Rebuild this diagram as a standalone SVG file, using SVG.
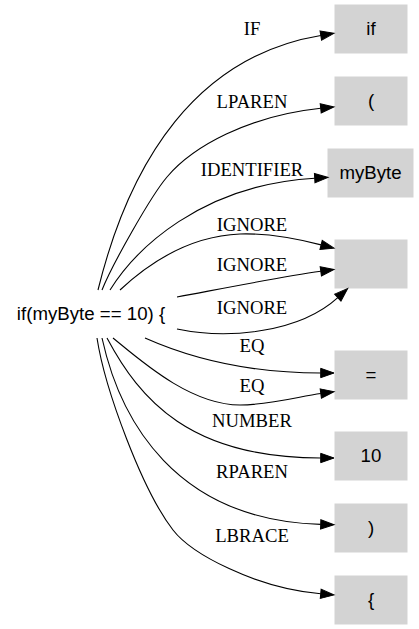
<svg xmlns="http://www.w3.org/2000/svg" width="419" height="629" viewBox="0 0 419 629">
<style>
.box{fill:#d3d3d3;stroke:#d3d3d3;stroke-width:1}
.nl{font-family:"Liberation Sans",Arial,sans-serif;font-size:18.67px;fill:#000;text-anchor:middle}
.el{font-family:"Liberation Serif","Times New Roman",serif;font-size:18.67px;fill:#000;text-anchor:middle}
.edge{fill:none;stroke:#000;stroke-width:1.1;marker-end:url(#arr)}
</style>
<defs>
<marker id="arr" markerUnits="userSpaceOnUse" viewBox="0 -5 14 10" refX="0" refY="0" markerWidth="14" markerHeight="10" orient="auto" overflow="visible">
<path d="M0,-4.67 L13.33,0 L0,4.67 Z" fill="#000" stroke="#000" stroke-width="1"/>
</marker>
</defs>
<rect width="419" height="629" fill="#fff"/>
<g id="src">
<text class="nl" x="91" y="320">if(myByte == 10) {</text>
</g>
<g id="n_if"><rect class="box" x="335" y="5" width="72" height="48"/><text class="nl" x="371" y="35">if</text></g>
<g id="n_lparen"><rect class="box" x="335" y="77" width="72" height="48"/><text class="nl" x="371" y="107">(</text></g>
<g id="n_id"><rect class="box" x="328" y="149" width="85" height="48"/><text class="nl" x="370.5" y="179">myByte</text></g>
<g id="n_ignore"><rect class="box" x="335" y="240" width="72" height="48"/></g>
<g id="n_eq"><rect class="box" x="335" y="351" width="72" height="48"/><text class="nl" x="371" y="381">=</text></g>
<g id="n_num"><rect class="box" x="335" y="432" width="72" height="48"/><text class="nl" x="371" y="462">10</text></g>
<g id="n_rparen"><rect class="box" x="335" y="504" width="72" height="48"/><text class="nl" x="371" y="534">)</text></g>
<g id="n_lbrace"><rect class="box" x="335" y="576" width="72" height="48"/><text class="nl" x="371" y="606">{</text></g>
<g id="edges">
<path class="edge" d="M98,290 C130,160 197,56 320.8,35.5"/>
<text class="el" x="252" y="35">IF</text>
<path class="edge" d="M102,290 C112,265 150.8,196 167,177 C192.9,146.5 248,116 320.7,108.3"/>
<text class="el" x="252" y="108">LPAREN</text>
<path class="edge" d="M110,290 C135,250 200,185 314.7,178.2"/>
<text class="el" x="252" y="175.5">IDENTIFIER</text>
<path class="edge" d="M120,290 C150,262 190,236 240,234 C270,233 300,239.5 321.1,244.9"/>
<text class="el" x="252" y="231">IGNORE</text>
<path class="edge" d="M177,297 C220,289 280,277 320.8,271.3"/>
<text class="el" x="252" y="270.5">IGNORE</text>
<path class="edge" d="M177,329 C230,340 300,332 337.8,297.6"/>
<text class="el" x="252" y="314">IGNORE</text>
<path class="edge" d="M145,338 C190,358 250,373 320.7,373"/>
<text class="el" x="252" y="352">EQ</text>
<path class="edge" d="M113,338 C140,360 190,405 240,405 C270,405 300,396.3 320.8,393.5"/>
<text class="el" x="252" y="392">EQ</text>
<path class="edge" d="M107,338 C140,400 190,458 320.7,458"/>
<text class="el" x="252" y="427">NUMBER</text>
<path class="edge" d="M102,338 C120,420 175,520 320.7,524.4"/>
<text class="el" x="252" y="478">RPAREN</text>
<path class="edge" d="M97,338 C105,390 142.5,490.5 173,530 C191.3,553.7 255,588 320.7,593.8"/>
<text class="el" x="252" y="542">LBRACE</text>
</g>
</svg>
